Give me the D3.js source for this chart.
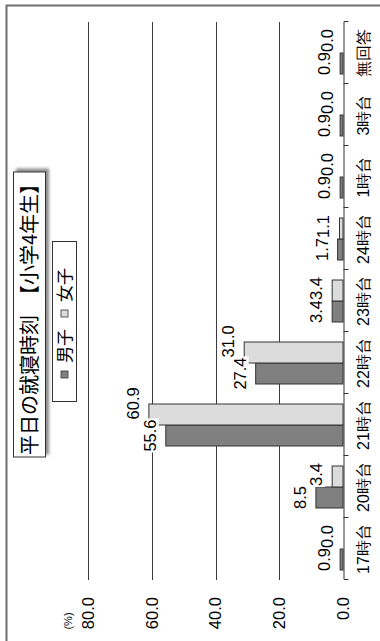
<!DOCTYPE html>
<html>
<head>
<meta charset="utf-8">
<script src="https://cdn.jsdelivr.net/npm/d3@7"></script>
<style>
  html, body { margin: 0; padding: 0; background: #fff; }
  svg { display: block; font-family: "Liberation Sans", "Noto Sans CJK JP", sans-serif; }
</style>
</head>
<body>
<div id="chart"></div>
<script>
// data
const categories = ["17時台", "20時台", "21時台", "22時台", "23時台", "24時台", "1時台", "3時台", "無回答"];
const seriesNames = ["男子", "女子"];
const boys = [0.9, 8.5, 55.6, 27.4, 3.4, 1.7, 0.9, 0.9, 0.9];
const girls = [0.0, 3.4, 60.9, 31.0, 3.4, 1.1, 0.0, 0.0, 0.0];
const yTicks = [0, 20, 40, 60, 80];
const titleText = "平日の就寝時刻　【小学4年生】";
const unitText = "(%)";
const seriesColors = { "男子": "#808080", "女子": "#dcdcdc" };

const W = 380, H = 641;
const svg = d3.select("#chart").append("svg")
  .attr("width", W)
  .attr("height", H);

// drop shadow for the title box
const defs = svg.append("defs");
const shadow = defs.append("filter").attr("id", "shadow")
  .attr("x", "-10%").attr("y", "-30%").attr("width", "130%").attr("height", "180%");
shadow.append("feDropShadow")
  .attr("dx", 3).attr("dy", 3).attr("stdDeviation", 1.8)
  .attr("flood-color", "#000").attr("flood-opacity", 0.45);

// the chart is laid out normally (641 wide, 380 tall) and then turned a quarter left
const g = svg.append("g").attr("transform", `translate(0,${H}) rotate(-90)`);

// outer chart border (only the top and right edges fall inside the picture)
g.append("rect")
  .attr("x", -10).attr("y", 6.5)
  .attr("width", 645.5).attr("height", 400)
  .attr("fill", "none")
  .attr("stroke", "#6e6e6e")
  .attr("stroke-width", 2);

// scales
const x = d3.scaleBand()
  .domain(categories)
  .range([61, 619])
  .paddingInner(0)
  .paddingOuter(0);

const xs = d3.scaleBand()
  .domain(seriesNames)
  .range([0, x.bandwidth()])
  .paddingInner(0)
  .paddingOuter(0.476);

const y = d3.scaleLinear()
  .domain([0, 80])
  .range([343, 88]);

const crisp = v => Math.round(v) + 0.5;

// gridlines
g.append("g").attr("class", "grid")
  .selectAll("line")
  .data(yTicks.filter(t => t > 0))
  .enter().append("line")
  .attr("x1", x.range()[0]).attr("x2", x.range()[1])
  .attr("y1", d => crisp(y(d))).attr("y2", d => crisp(y(d)))
  .attr("stroke", "#3a3a3a")
  .attr("stroke-width", 1);

// value axis labels
const yAxis = g.append("g")
  .attr("transform", `translate(${x.range()[0]},0)`)
  .call(d3.axisLeft(y)
    .tickValues(yTicks)
    .tickFormat(d3.format(".1f"))
    .tickSize(0)
    .tickPadding(17));
yAxis.select(".domain").remove();
yAxis.selectAll("text")
  .attr("font-size", "16.5px")
  .attr("fill", "#000")
  .attr("font-family", "Liberation Sans, Arial, sans-serif");

g.append("text")
  .attr("x", 20)
  .attr("y", y(80) - 20)
  .attr("dy", "0.35em")
  .attr("text-anchor", "middle")
  .attr("font-size", "11px")
  .attr("fill", "#000")
  .text(unitText);

// bars
const rows = categories.map((c, i) => ({ cat: c, values: { "男子": boys[i], "女子": girls[i] } }));

const groups = g.append("g").attr("class", "bars")
  .selectAll("g")
  .data(rows)
  .enter().append("g")
  .attr("transform", d => `translate(${x(d.cat)},0)`);

groups.selectAll("rect")
  .data(d => seriesNames.map(s => ({ s, v: d.values[s] })))
  .enter().append("rect")
  .attr("x", d => xs(d.s))
  .attr("y", d => y(d.v))
  .attr("width", xs.bandwidth())
  .attr("height", d => y(0) - y(d.v))
  .attr("fill", d => seriesColors[d.s])
  .attr("stroke", "#333")
  .attr("stroke-width", 1);

// category axis: line at zero, ticks between categories
const xAxis = g.append("g")
  .attr("transform", `translate(0,${crisp(y(0))})`)
  .call(d3.axisBottom(x).tickSize(0).tickSizeOuter(5).tickPadding(14));
xAxis.select(".domain").attr("stroke", "#333");
xAxis.selectAll("text")
  .attr("font-size", "16px")
  .attr("fill", "#000");

xAxis.append("g")
  .selectAll("line")
  .data(categories.slice(1))
  .enter().append("line")
  .attr("x1", d => Math.round(x(d)) + 0.5).attr("x2", d => Math.round(x(d)) + 0.5)
  .attr("y1", 0).attr("y2", 5)
  .attr("stroke", "#333");

// data labels with white boxes; the second series label is nudged aside if it collides
const labelLayer = g.append("g").attr("class", "labels");
rows.forEach(r => {
  const placed = [];
  seriesNames.forEach(s => {
    const v = r.values[s];
    const lg = labelLayer.append("g");
    const t = lg.append("text")
      .attr("x", x(r.cat) + xs(s) + xs.bandwidth() / 2)
      .attr("y", y(v) - 10)
      .attr("text-anchor", "middle")
      .attr("font-size", "16.5px")
      .attr("fill", "#000")
      .text(v.toFixed(1));
    let bb = t.node().getBBox();
    placed.forEach(p => {
      const vOverlap = bb.y < p.y + p.height && p.y < bb.y + bb.height;
      const uOverlap = p.x + p.width - bb.x;
      if (vOverlap && uOverlap > 0 && bb.x > p.x) {
        t.attr("x", +t.attr("x") + uOverlap);
      }
    });
    bb = t.node().getBBox();
    placed.push(bb);
    lg.insert("rect", "text")
      .attr("x", bb.x - 1).attr("y", bb.y)
      .attr("width", bb.width + 2).attr("height", bb.height)
      .attr("fill", "#fff");
  });
});

// title box
const titleG = g.append("g");
titleG.append("rect")
  .attr("x", 184).attr("y", 13.5)
  .attr("width", 285).attr("height", 32)
  .attr("fill", "#fff")
  .attr("stroke", "#333")
  .attr("stroke-width", 1)
  .attr("filter", "url(#shadow)");
titleG.append("text")
  .attr("x", 326.5).attr("y", 29.5)
  .attr("dy", "0.36em")
  .attr("text-anchor", "middle")
  .attr("font-size", "20px")
  .attr("font-family", "Noto Sans CJK JP, sans-serif")
  .attr("fill", "#000")
  .text(titleText);

// legend
const legend = g.append("g");
legend.append("rect")
  .attr("x", 239.5).attr("y", 52.5)
  .attr("width", 160).attr("height", 24)
  .attr("fill", "#fff")
  .attr("stroke", "#333")
  .attr("stroke-width", 1);
const items = legend.selectAll("g.item")
  .data(seriesNames)
  .enter().append("g")
  .attr("class", "item")
  .attr("transform", (d, i) => `translate(${263 + i * 61},64.5)`);
items.append("rect")
  .attr("x", 0).attr("y", -3.5)
  .attr("width", 7).attr("height", 7)
  .attr("fill", d => seriesColors[d])
  .attr("stroke", "#333")
  .attr("stroke-width", 0.8);
items.append("text")
  .attr("x", 15)
  .attr("dy", "0.36em")
  .attr("font-size", "17px")
  .attr("font-family", "Noto Sans CJK JP, sans-serif")
  .attr("fill", "#000")
  .text(d => d);
</script>
</body>
</html>
